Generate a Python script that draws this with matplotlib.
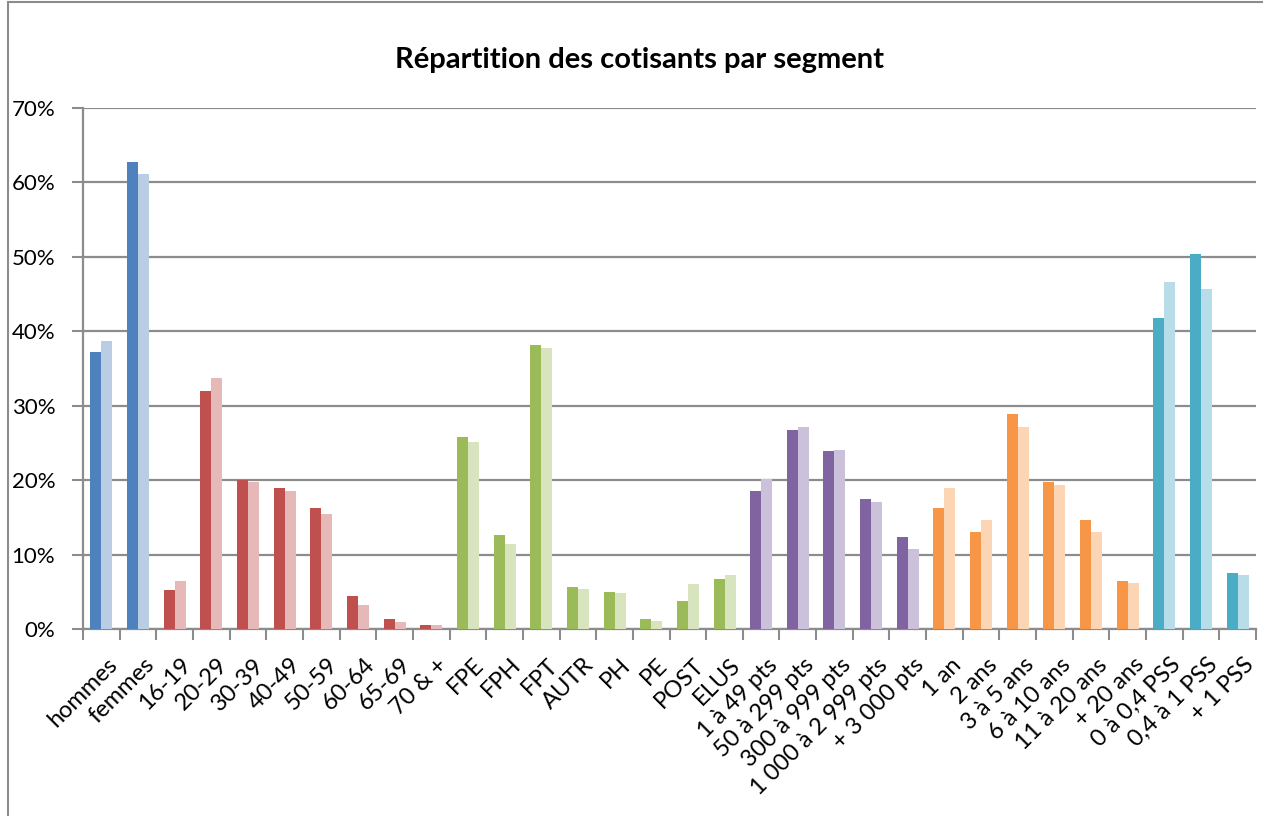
import numpy as np
import matplotlib
matplotlib.use("Agg")
import matplotlib.pyplot as plt
from matplotlib.patches import Rectangle
from matplotlib.ticker import PercentFormatter

plt.rcParams['font.family'] = ['Lato', 'DejaVu Sans']

# categories and their segment group
categories = ["hommes", "femmes", "16-19", "20-29", "30-39", "40-49", "50-59",
              "60-64", "65-69", "70 & +", "FPE", "FPH", "FPT", "AUTR", "PH", "PE",
              "POST", "ELUS", "1 à 49 pts", "50 à 299 pts", "300 à 999 pts",
              "1 000 à 2 999 pts", "+ 3 000 pts", "1 an", "2 ans", "3 à 5 ans",
              "6 à 10 ans", "11 à 20 ans", "+ 20 ans", "0 à 0,4 PSS", "0,4 à 1 PSS",
              "+ 1 PSS"]
groups = [0, 0, 1, 1, 1, 1, 1, 1, 1, 1, 2, 2, 2, 2, 2, 2, 2, 2,
          3, 3, 3, 3, 3, 4, 4, 4, 4, 4, 4, 5, 5, 5]

# two series (%)
serie_1 = [37.2, 62.7, 5.3, 32.0, 20.0, 19.0, 16.3, 4.5, 1.4, 0.6,
           25.8, 12.7, 38.2, 5.6, 5.0, 1.3, 3.8, 6.8,
           18.6, 26.8, 23.9, 17.5, 12.4,
           16.3, 13.1, 28.9, 19.7, 14.7, 6.5,
           41.8, 50.4, 7.6]
serie_2 = [38.7, 61.2, 6.4, 33.8, 19.8, 18.5, 15.5, 3.3, 1.0, 0.5,
           25.2, 11.4, 37.7, 5.4, 4.8, 1.1, 6.1, 7.3,
           20.2, 27.2, 24.0, 17.1, 10.8,
           18.9, 14.6, 27.1, 19.3, 13.1, 6.2,
           46.6, 45.7, 7.3]

dark = ["#4F81BD", "#C0504D", "#9BBB59", "#8064A2", "#F79646", "#4BACC6"]
light = ["#B9CDE5", "#E6B9B8", "#D7E4BD", "#CCC1DA", "#FCD5B5", "#B7DEE8"]

fig = plt.figure(figsize=(12.63, 8.16), dpi=100)
ax = fig.add_axes([0.0657, 0.229, 0.9288, 0.6386])

x = np.arange(len(categories))
w = 0.3
ax.bar(x - w / 2, serie_1, w, color=[dark[g] for g in groups], zorder=3)
ax.bar(x + w / 2, serie_2, w, color=[light[g] for g in groups], zorder=3)

ax.set_xlim(-0.5, len(categories) - 0.5)
ax.set_ylim(0, 70)
ax.set_yticks(np.arange(0, 71, 10))
ax.yaxis.set_major_formatter(PercentFormatter(decimals=0))
ax.grid(axis='y', color='#8c8c8c', lw=1.6, zorder=0)

ax.set_xticks(x + 0.15)
ax.set_xticklabels(categories, rotation=45, ha='right', va='top',
                   rotation_mode='anchor', fontsize=17)
ax.set_xticks(np.arange(-0.5, len(categories)), minor=True)
ax.tick_params(axis='x', which='major', length=0, pad=18)
ax.tick_params(axis='x', which='minor', length=8, width=1.5, color='#8c8c8c')
ax.tick_params(axis='y', length=8, width=1.5, color='#8c8c8c', labelsize=16, pad=12)

for s in ['top', 'right']:
    ax.spines[s].set_visible(False)
for s in ['left', 'bottom']:
    ax.spines[s].set_color('#8c8c8c')
    ax.spines[s].set_linewidth(1.6)

fig.text(640 / 1263, 1 - 68 / 816, "Répartition des cotisants par segment",
         fontsize=21, fontweight='bold', ha='center', va='baseline')

# outer chart frame
fig.patches.append(Rectangle((8 / 1263, -0.1), 1.2, 1.098, transform=fig.transFigure,
                             fill=False, edgecolor='#8c8c8c', lw=1.5))

fig.savefig("out.png", dpi=100)
